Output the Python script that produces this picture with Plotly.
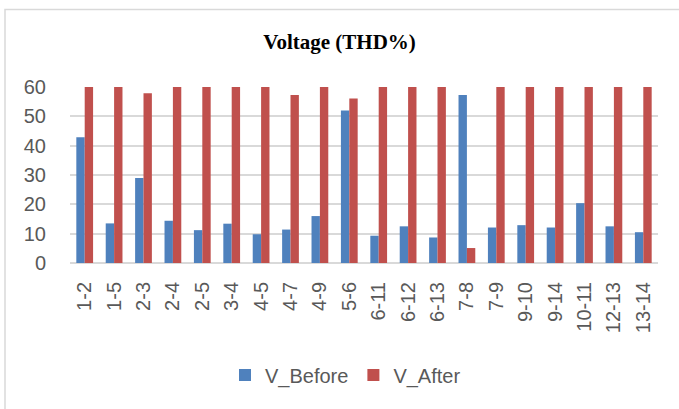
import plotly.graph_objects as go

categories = ["1-2", "1-5", "2-3", "2-4", "2-5", "3-4", "4-5", "4-7", "4-9", "5-6",
              "6-11", "6-12", "6-13", "7-8", "7-9", "9-10", "9-14", "10-11", "12-13", "13-14"]
v_before = [42.9, 13.5, 29.0, 14.4, 11.2, 13.4, 9.8, 11.4, 16.0, 52.0,
            9.3, 12.5, 8.7, 57.3, 12.1, 12.9, 12.1, 20.4, 12.5, 10.5]
v_after = [60, 60, 57.9, 60, 60, 60, 60, 57.3, 60, 56.1,
           60, 60, 60, 5.1, 60, 60, 60, 60, 60, 60]

BLUE = "#4F81BD"
RED = "#C0504D"
GRAY_TXT = "#595959"

fig = go.Figure()
fig.add_trace(go.Bar(x=categories, y=v_before, name="V_Before", marker_color=BLUE,
                     marker_line_width=0))
fig.add_trace(go.Bar(x=categories, y=v_after, name="V_After", marker_color=RED,
                     marker_line_width=0))

fig.update_layout(
    width=679, height=409,
    margin=dict(l=70, r=21, t=87, b=146),
    paper_bgcolor="white", plot_bgcolor="white",
    barmode="group", bargap=0.43, bargroupgap=0,
    showlegend=True,
    title=dict(text="<b>Voltage (THD%)</b>", x=0.5, xref="container", xanchor="center",
               y=1 - 42 / 409, yref="container", yanchor="middle",
               font=dict(family="Liberation Serif", size=21, color="black")),
    legend=dict(orientation="h", x=(225 - 70) / 588, xanchor="left", y=-0.636, yanchor="middle",
                font=dict(family="Liberation Sans", size=20, color=GRAY_TXT),
                itemwidth=30, bgcolor="rgba(0,0,0,0)"),
    font=dict(family="Liberation Sans", color=GRAY_TXT),
)

fig.update_yaxes(range=[0, 60], dtick=10, showgrid=True, gridcolor="#D9D9D9", gridwidth=1.5,
                 zeroline=True, zerolinecolor="#D9D9D9", zerolinewidth=1.5,
                 showline=False, ticks="", tickfont=dict(size=20, color=GRAY_TXT),
                 ticklabelstandoff=23)
fig.update_xaxes(type="category", tickangle=-90, showgrid=False, showline=False, ticks="",
                 tickfont=dict(size=20, color=GRAY_TXT), ticklabelstandoff=14)

# chart outer border (left and top visible)
fig.add_shape(type="rect", xref="x domain", yref="y domain",
              x0=(5 - 70) / 588, x1=(700 - 70) / 588,
              y0=(263 - 420) / 176, y1=(263 - 9.5) / 176,
              line=dict(color="#D9D9D9", width=1.5), fillcolor="rgba(0,0,0,0)", layer="below")

fig.write_html("out.html")
